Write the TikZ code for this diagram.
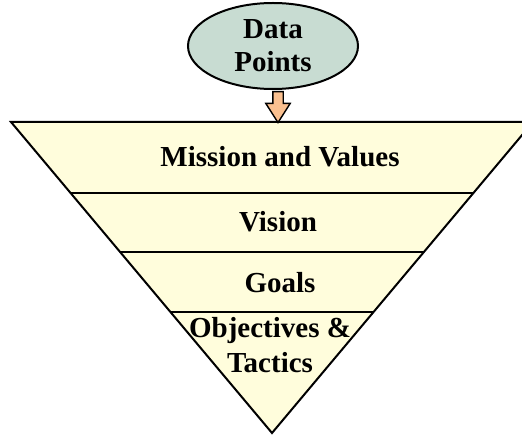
\documentclass[tikz,border=0pt]{standalone}
\usepackage{fontspec}
\setmainfont{Liberation Serif}
\usetikzlibrary{shapes.geometric, shapes.arrows, positioning}

\definecolor{funnelfill}{HTML}{FFFDDC}
\definecolor{datafill}{HTML}{C8DCD2}
\definecolor{feedfill}{HTML}{FAC090}

\begin{document}
\begin{tikzpicture}[
x=1pt, y=-1pt,
layer/.style={
font=\fontsize{29}{35}\selectfont\bfseries,
align=center,
inner sep=0pt
},
source/.style={
ellipse,
draw,
line width=2pt,
fill=datafill,
minimum width=170pt,
minimum height=86pt,
font=\fontsize{29}{33}\selectfont\bfseries,
align=center
},
feed/.style={
single arrow,
draw,
line width=1.4pt,
fill=feedfill,
shape border rotate=270,
minimum height=31pt,
inner sep=4.5pt,
single arrow head extend=7pt,
single arrow tip angle=65
}
]

\useasboundingbox (0,0) rectangle (522,435);

% funnel outline
\coordinate (topleft) at (11,122);
\coordinate (topright) at (533,122);
\coordinate (apex) at (272,433);
\draw[line width=2pt, fill=funnelfill] (topleft) -- (topright) -- (apex) -- cycle;

% layer dividers
\draw[line width=2pt] (71,193) -- (473,193);
\draw[line width=2pt] (120,252) -- (424,252);
\draw[line width=2pt] (170,312) -- (374,312);

\node[layer] (mission) at (280,157) {Mission and Values};
\node[layer] (vision) at (278,222) {Vision};
\node[layer] (goals) at (280,283) {Goals};
\node[layer] (tactics) at (270,345) {Objectives \&\\Tactics};

\node[source] (data) at (273,46) {Data\\Points};

\node[feed] (arrow) at (278,103) {};

\end{tikzpicture}
\end{document}
